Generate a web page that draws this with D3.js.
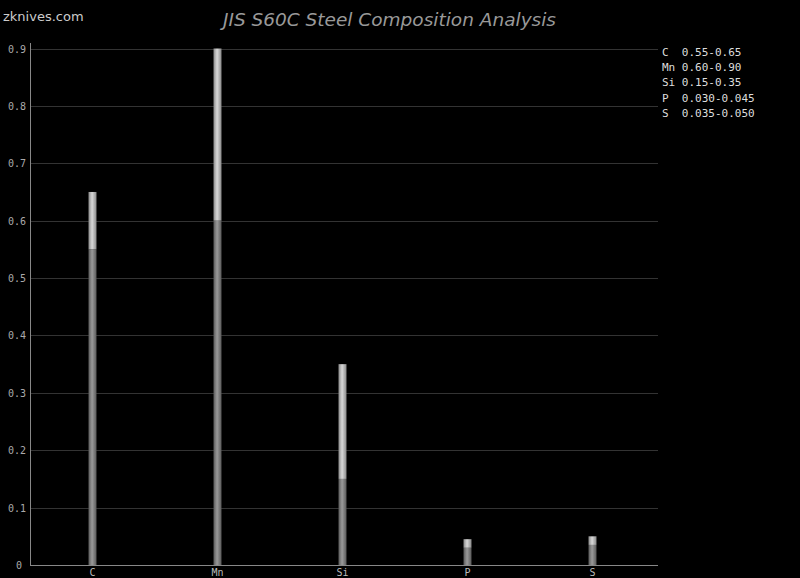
<!DOCTYPE html>
<html><head><meta charset="utf-8">
<script src="https://cdn.jsdelivr.net/npm/d3@7"></script>
<style>body{margin:0;background:#000;}svg{display:block;}</style>
</head><body>
<svg id="c" width="800" height="578"></svg>
<script>
const elements = ["C","Mn","Si","P","S"];
const minValues = [0.55,0.60,0.15,0.030,0.035];
const maxValues = [0.65,0.90,0.35,0.045,0.050];
const rangeLabels = ["0.55-0.65","0.60-0.90","0.15-0.35","0.030-0.045","0.035-0.050"];
const yTicks = [0,0.1,0.2,0.3,0.4,0.5,0.6,0.7,0.8,0.9];
const title = "JIS S60C Steel Composition Analysis";
const watermark = "zknives.com";

(function(){
const svg = d3.select("#c");
svg.append("rect").attr("width",800).attr("height",578).attr("fill","#000");
const mLeft=30,mRight=655,mBottom=565,mTop=48.5;
const x = d3.scaleBand().domain(elements).range([mLeft,mRight]);
const y = d3.scaleLinear().domain([0,0.9]).range([mBottom,mTop]);

const defs = svg.append("defs");
function grad(id, edge, mid){
  const g = defs.append("linearGradient").attr("id",id).attr("x1","0").attr("x2","1").attr("y1","0").attr("y2","0");
  g.append("stop").attr("offset","0%").attr("stop-color",edge);
  g.append("stop").attr("offset","45%").attr("stop-color",mid);
  g.append("stop").attr("offset","100%").attr("stop-color",edge);
}
grad("gLow","#5a5a5a","#9a9a9a");
grad("gHigh","#8a8a8a","#d8d8d8");

svg.append("g").selectAll("line").data(yTicks.filter(d=>d>0)).join("line")
  .attr("x1",mLeft).attr("x2",658).attr("y1",d=>Math.round(y(d))+0.5).attr("y2",d=>Math.round(y(d))+0.5)
  .attr("stroke","#333").attr("stroke-width",1);

svg.append("g").selectAll("text").data(yTicks).join("text")
  .attr("x",d=>d===0?22:26).attr("y",d=>y(d)+4).attr("text-anchor","end")
  .attr("font-family","DejaVu Sans Mono, monospace").attr("font-size",10).attr("fill","#aaa")
  .text(d=>d===0?"0":d3.format(".1f")(d));

svg.append("line").attr("x1",mLeft+0.5).attr("x2",mLeft+0.5).attr("y1",43).attr("y2",mBottom+1).attr("stroke","#888");
svg.append("line").attr("x1",mLeft).attr("x2",658).attr("y1",mBottom+0.5).attr("y2",mBottom+0.5).attr("stroke","#888");

const bw=8;
const bars = svg.append("g");
elements.forEach((e,i)=>{
  const cx = x(e)+x.bandwidth()/2;
  bars.append("rect").attr("x",cx-bw/2).attr("width",bw)
    .attr("y",y(minValues[i])).attr("height",y(0)-y(minValues[i])).attr("fill","url(#gLow)");
  bars.append("rect").attr("x",cx-bw/2).attr("width",bw)
    .attr("y",y(maxValues[i])).attr("height",y(minValues[i])-y(maxValues[i])).attr("fill","url(#gHigh)");
});

svg.append("g").selectAll("text").data(elements).join("text")
  .attr("x",d=>x(d)+x.bandwidth()/2).attr("y",576).attr("text-anchor","middle")
  .attr("font-family","DejaVu Sans Mono, monospace").attr("font-size",10).attr("fill","#bbb")
  .text(d=>d);

svg.append("g").selectAll("text").data(elements).join("text")
  .attr("x",662).attr("y",(d,i)=>55.7+i*15.3)
  .attr("font-family","DejaVu Sans Mono, monospace").attr("font-size",11).attr("fill","#ddd")
  .attr("xml:space","preserve")
  .text((d,i)=>(d+"   ").slice(0,3)+rangeLabels[i]);

svg.append("text").attr("x",389.5).attr("y",26).attr("text-anchor","middle")
  .attr("font-family","DejaVu Sans, sans-serif").attr("font-style","italic").attr("font-size",18.5)
  .attr("fill","#999").text(title);
svg.append("text").attr("x",3).attr("y",21)
  .attr("font-family","DejaVu Sans, sans-serif").attr("font-size",13)
  .attr("fill","#ccc").text(watermark);
})();
</script>
</body></html>
